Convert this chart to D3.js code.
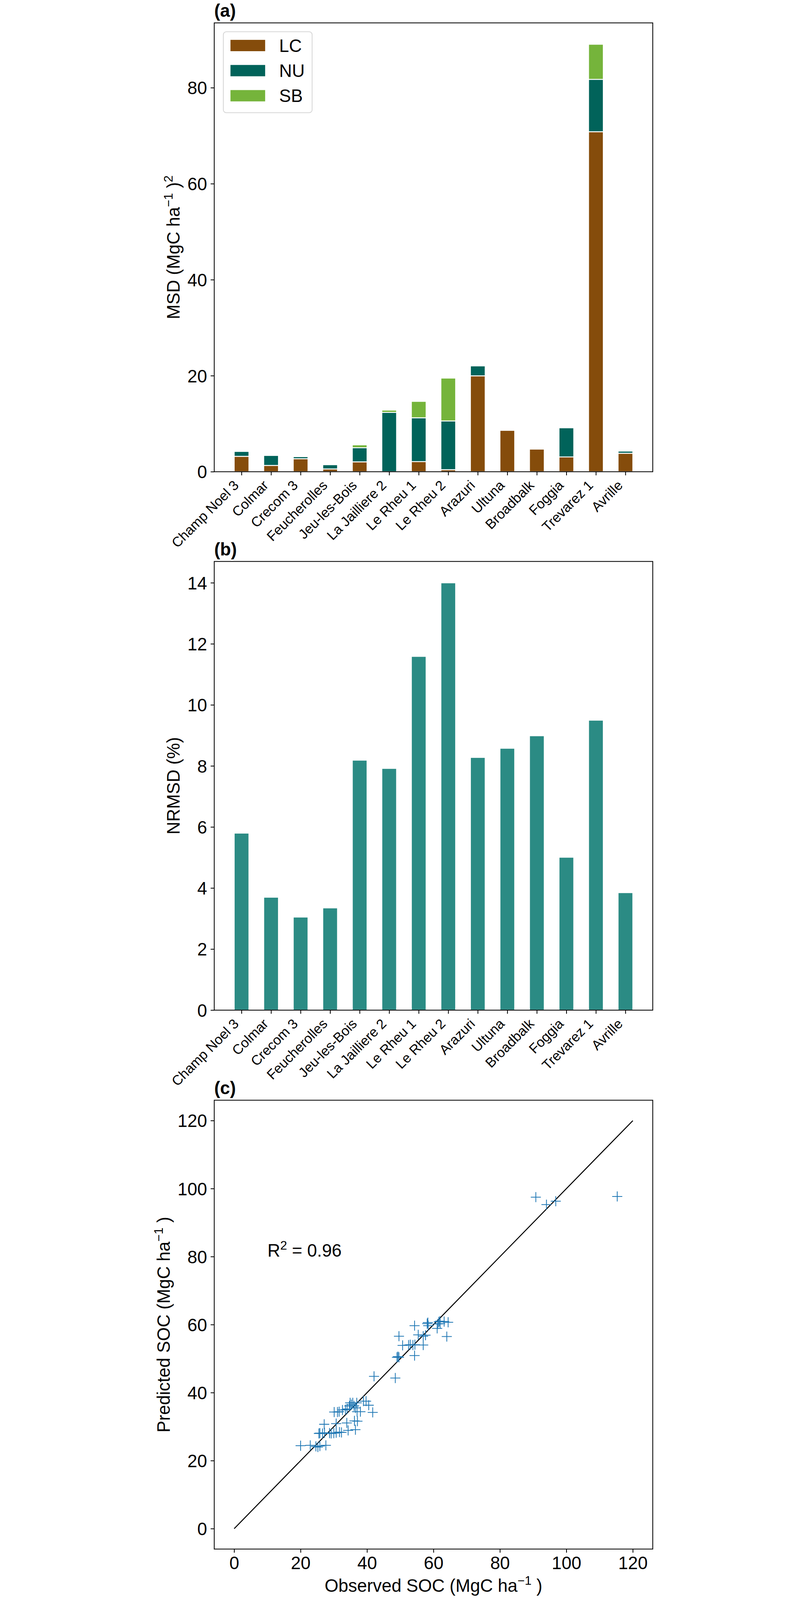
<!DOCTYPE html>
<html>
<head>
<meta charset="utf-8">
<script src="https://cdn.jsdelivr.net/npm/d3@7"></script>
<style>
  html, body { margin: 0; padding: 0; background: #fff; overflow: hidden; }
  #chart svg { display: block; width: 100vw; height: 100vh; }
  text { font-family: "Liberation Sans", Arial, sans-serif; }
</style>
</head>
<body>
<div id="chart"></div>
<script>
// sites (x categories of panels a and b)
const sites = ['Champ Noel 3', 'Colmar', 'Crecom 3', 'Feucherolles', 'Jeu-les-Bois',
    'La Jailliere 2', 'Le Rheu 1', 'Le Rheu 2', 'Arazuri', 'Ultuna', 'Broadbalk',
    'Foggia', 'Trevarez 1', 'Avrille'];

// panel (a) MSD components
const lcMsd = [3.21, 1.31, 2.71, 0.58, 2.06, 0.0, 2.11, 0.43, 19.98, 8.62, 4.71, 3.08, 70.84, 3.85];
const nuMsd = [1.02, 2.08, 0.43, 0.88, 2.95, 12.36, 9.13, 10.15, 2.07, 0, 0, 6.07, 10.91, 0.45];
const sbMsd = [0, 0, 0, 0, 0.59, 0.48, 3.42, 8.93, 0, 0, 0, 0, 7.31, 0];
const msdKeys = ['LC', 'NU', 'SB'];
const msdColors = ['#854c0b', '#01635a', '#75b43b'];
const msdTicks = [0, 20, 40, 60, 80];

// panel (b) NRMSD
const nrmsd = [5.80, 3.70, 3.05, 3.35, 8.19, 7.92, 11.59, 14.00, 8.28, 8.58, 8.99, 5.01, 9.50, 3.85];
const nrmsdTicks = [0, 2, 4, 6, 8, 10, 12, 14];

// panel (c) observed vs predicted SOC
const obsSoc = [20.0, 22.9, 24.6, 25.2, 25.8, 27.6,
    25.5, 25.8, 26.6, 27.2, 28.7, 29.2, 30.0, 30.7, 31.7, 32.3,
    27.1, 30.7, 33.9, 36.2, 37.1, 34.3, 36.5,
    30.1, 31.1, 31.6, 32.6, 33.5, 34.0, 34.7, 34.9, 35.3, 35.7, 36.1, 36.5, 36.9, 37.0, 38.0, 38.9, 39.7, 40.5, 41.7,
    42.1, 48.5,
    49.0, 49.3, 49.6, 49.6, 50.7, 52.5, 53.0, 53.8, 54.4, 54.3, 54.3, 55.4, 56.9, 56.9, 57.6, 58.1, 58.4, 58.3,
    61.1, 61.3, 61.6, 61.9, 62.0, 63.2, 64.4, 64.0,
    90.8, 94.0, 96.8, 115.3];
const predSoc = [24.4, 24.5, 24.2, 24.0, 24.3, 24.5,
    28.0, 28.1, 28.0, 28.2, 28.1, 28.0, 28.1, 28.2, 28.4, 28.3,
    30.7, 30.9, 31.1, 31.7, 31.6, 28.9, 29.1,
    34.3, 34.3, 34.4, 34.9, 35.0, 35.2, 36.1, 37.0, 36.5, 37.0, 36.1, 35.5, 37.0, 34.4, 34.4, 37.5, 37.5, 36.3, 34.2,
    44.8, 44.3,
    50.4, 50.6, 50.4, 56.6, 53.9, 54.0, 54.1, 54.0, 54.1, 50.9, 59.7, 57.0, 54.0, 56.6, 56.9, 60.3, 59.7, 60.6,
    58.9, 60.2, 60.8, 61.0, 60.3, 60.9, 60.7, 56.5,
    97.5, 95.3, 96.3, 97.7];
const oneToOne = [0, 120];
const socTicks = [0, 20, 40, 60, 80, 100, 120];
const r2Text = '0.96';

const W = 2067, H = 6502;
const FS = 72, SITE_FS = 56, TICK = 14.6, PAD = 14.6;
const left = 264, right = 2047;
const panelA = { top: 93, bottom: 1917 };
const panelB = { top: 2281.6, bottom: 4105 };
const panelC = { top: 4471, bottom: 6295 };

// viewBox keeps the drawing whole even if the window is not the full size
const svg = d3.select('#chart').append('svg')
    .attr('viewBox', `0 0 ${W} ${H}`)
    .attr('preserveAspectRatio', 'xMidYMin meet');
svg.append('rect').attr('width', W).attr('height', H).attr('fill', '#fff');

// shared helpers
function styleAxis(g) {
    g.attr('font-size', FS).attr('font-family', null);
    g.select('.domain').remove();
    g.selectAll('.tick line').attr('stroke', '#000').attr('stroke-width', 3.3);
    g.selectAll('.tick text').attr('fill', '#000');
}

function yAxis(y, ticks) {
    const g = svg.append('g')
        .attr('transform', `translate(${left},0)`)
        .call(d3.axisLeft(y).tickValues(ticks).tickFormat(d3.format('d'))
            .tickSize(TICK).tickPadding(PAD));
    styleAxis(g);
    g.selectAll('.tick text').attr('dy', '0.36em');
}

function siteAxis(x, p) {
    const g = svg.append('g')
        .attr('transform', `translate(0,${p.bottom})`)
        .call(d3.axisBottom(x).tickValues(d3.range(sites.length)).tickFormat(i => sites[i])
            .tickSize(TICK).tickPadding(PAD));
    styleAxis(g);
    // rotated 45 deg, right edge of the rotated box on the tick
    g.selectAll('.tick text')
        .attr('font-size', SITE_FS)
        .attr('x', 0).attr('y', 0).attr('dy', null)
        .attr('text-anchor', 'end')
        .attr('transform', `translate(-8.4,${TICK + PAD + 29.7}) rotate(-45)`);
}

function frame(p) {
    svg.append('rect')
        .attr('x', left).attr('y', p.top)
        .attr('width', right - left).attr('height', p.bottom - p.top)
        .attr('fill', 'none').attr('stroke', '#000').attr('stroke-width', 3.3);
}

function title(p, s) {
    svg.append('text')
        .attr('x', left).attr('y', p.top - 24)
        .attr('font-size', FS).attr('font-weight', 'bold')
        .text(s);
}

// text with superscripts: parts = [[text, isSup], ...]
function richText(t, parts) {
    let raised = false;
    parts.forEach(([s, sup]) => {
        const ts = t.append('tspan').text(s);
        if (sup && !raised) { ts.attr('dy', -28).attr('font-size', 50); raised = true; }
        else if (sup) { ts.attr('font-size', 50); }
        else if (raised) { ts.attr('dy', 28); raised = false; }
    });
}

function yLabel(p, xPos, parts) {
    const t = svg.append('text')
        .attr('transform', `translate(${xPos},${(p.top + p.bottom) / 2}) rotate(-90)`)
        .attr('text-anchor', 'middle')
        .attr('font-size', FS);
    richText(t, parts);
}

const xCat = d3.scaleLinear().domain([-0.925, 13.925]).range([left, right]);
const barW = xCat(0.5) - xCat(0);

// ---------- panel (a) ----------
const table = sites.map((s, i) => ({ site: s, i: i, LC: lcMsd[i], NU: nuMsd[i], SB: sbMsd[i] }));
const stacked = d3.stack().keys(msdKeys)(table);
const maxMsd = d3.max(table, d => d.LC + d.NU + d.SB);
const yA = d3.scaleLinear().domain([0, maxMsd * 1.05]).range([panelA.bottom, panelA.top]);

stacked.forEach((layer, k) => {
    svg.append('g')
        .selectAll('rect')
        .data(layer.filter(d => d[1] - d[0] > 0))
        .enter().append('rect')
        .attr('x', d => xCat(d.data.i) - barW / 2)
        .attr('y', d => yA(d[1]))
        .attr('width', barW)
        .attr('height', d => yA(d[0]) - yA(d[1]))
        .attr('fill', msdColors[k])
        .attr('stroke', '#fff')
        .attr('stroke-width', 3.7);
});

yAxis(yA, msdTicks);
siteAxis(xCat, panelA);
frame(panelA);
title(panelA, '(a)');
yLabel(panelA, 123, [['MSD (MgC ha', false], ['\u22121', true], [' )', false], ['2', true]]);

// legend
const legend = svg.append('g');
legend.append('rect')
    .attr('x', 301).attr('y', 129).attr('width', 361).attr('height', 329)
    .attr('rx', 12).attr('fill', '#fff').attr('fill-opacity', 0.8)
    .attr('stroke', '#d6d6d6').attr('stroke-width', 3.3);
msdKeys.forEach((k, i) => {
    legend.append('rect')
        .attr('x', 330).attr('y', 162 + i * 102)
        .attr('width', 141).attr('height', 46)
        .attr('fill', msdColors[i]);
    legend.append('text')
        .attr('x', 528).attr('y', 211 + i * 102)
        .attr('font-size', FS)
        .text(k);
});

// ---------- panel (b) ----------
const yB = d3.scaleLinear().domain([0, d3.max(nrmsd) * 1.05]).range([panelB.bottom, panelB.top]);
svg.append('g')
    .selectAll('rect')
    .data(nrmsd)
    .enter().append('rect')
    .attr('x', (d, i) => xCat(i) - barW / 2)
    .attr('y', d => yB(d))
    .attr('width', barW)
    .attr('height', d => yB(0) - yB(d))
    .attr('fill', '#2b8b84')
    .attr('stroke', '#fff')
    .attr('stroke-width', 3.7);

yAxis(yB, nrmsdTicks);
siteAxis(xCat, panelB);
frame(panelB);
title(panelB, '(b)');
yLabel(panelB, 123, [['NRMSD (%)', false]]);

// ---------- panel (c) ----------
const xC = d3.scaleLinear().domain([-6, 126]).range([left, right]);
const yC = d3.scaleLinear().domain([-6, 126]).range([panelC.bottom, panelC.top]);

const pts = obsSoc.map((o, i) => ({ obs: o, pred: predSoc[i] }));

svg.append('path')
    .datum(oneToOne)
    .attr('d', d3.line().x(d => xC(d)).y(d => yC(d)))
    .attr('fill', 'none')
    .attr('stroke', '#000')
    .attr('stroke-width', 4);

svg.append('g')
    .selectAll('path')
    .data(pts)
    .enter().append('path')
    .attr('transform', d => `translate(${xC(d.obs)},${yC(d.pred)})`)
    .attr('d', 'M-20.5,0H20.5M0,-20.5V20.5')
    .attr('fill', 'none')
    .attr('stroke', '#1f77b4')
    .attr('stroke-width', 3.2);

yAxis(yC, socTicks);
const gx = svg.append('g')
    .attr('transform', `translate(0,${panelC.bottom})`)
    .call(d3.axisBottom(xC).tickValues(socTicks).tickFormat(d3.format('d'))
        .tickSize(TICK).tickPadding(PAD));
styleAxis(gx);
gx.selectAll('.tick text').attr('dy', '0.72em');
frame(panelC);
title(panelC, '(c)');

const r2 = svg.append('text')
    .attr('x', xC(10)).attr('y', yC(80))
    .attr('font-size', FS);
richText(r2, [['R', false], ['2', true], [' = ' + r2Text, false]]);

yLabel(panelC, 83, [['Predicted SOC (MgC ha', false], ['\u22121', true], [' )', false]]);
const xl = svg.append('text')
    .attr('x', (left + right) / 2).attr('y', 6468)
    .attr('text-anchor', 'middle')
    .attr('font-size', FS);
richText(xl, [['Observed SOC (MgC ha', false], ['\u22121', true], [' )', false]]);
</script>
</body>
</html>
